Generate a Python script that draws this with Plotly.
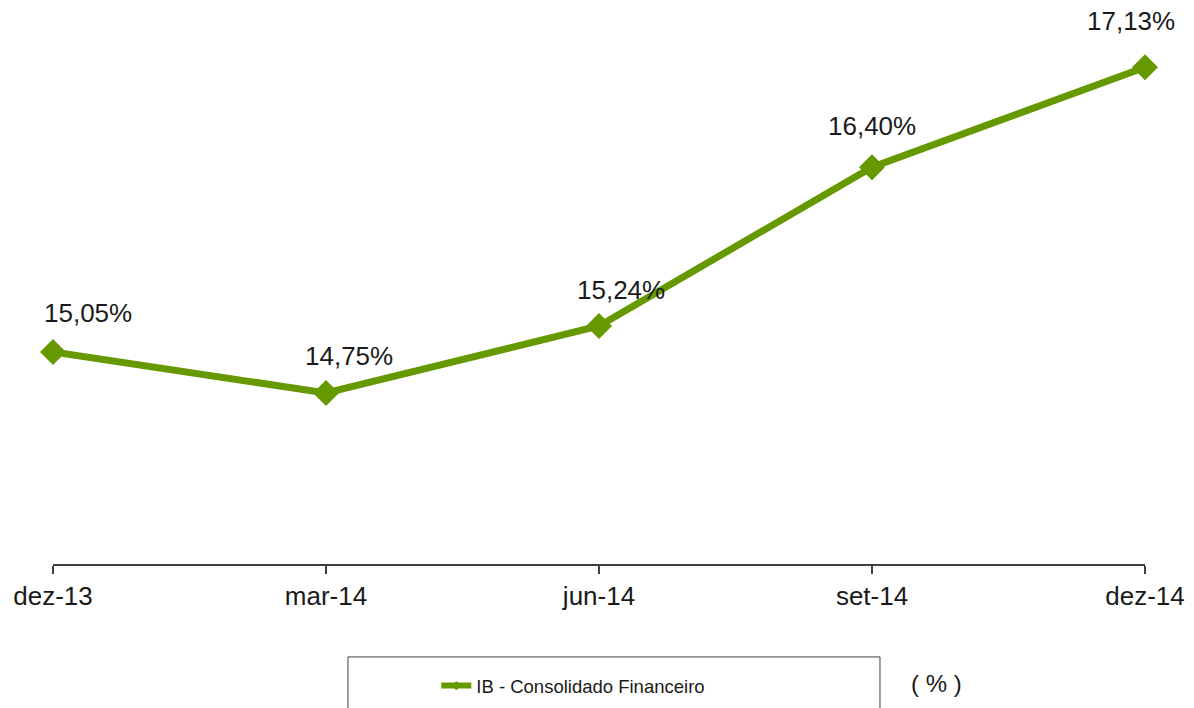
import plotly.graph_objects as go

categories = ["dez-13", "mar-14", "jun-14", "set-14", "dez-14"]
values = [15.05, 14.75, 15.24, 16.40, 17.13]
labels = ["15,05%", "14,75%", "15,24%", "16,40%", "17,13%"]
series_name = "IB - Consolidado Financeiro"
unit_note = "( % )"

label_xshift = [35, 23, 22, 0, -14]
label_yshift = [39, 37, 36, 41, 46]

GREEN = "#669900"
FONT = "Liberation Sans, Arial, sans-serif"

fig = go.Figure()
fig.add_trace(go.Scatter(
    x=categories, y=values, mode="lines+markers", name=series_name,
    line=dict(color=GREEN, width=7),
    marker=dict(symbol="diamond", size=20, color=GREEN),
    cliponaxis=False, showlegend=False,
))
# legend entry (same series style, smaller legend marker)
fig.add_trace(go.Scatter(
    x=[None], y=[None], mode="lines+markers", name=series_name,
    line=dict(color=GREEN, width=6),
    marker=dict(symbol="diamond", size=7, color=GREEN),
    showlegend=True,
))

for c, v, t, dx, dy in zip(categories, values, labels, label_xshift, label_yshift):
    fig.add_annotation(x=c, y=v, text=t, showarrow=False, xshift=dx, yshift=dy,
                       font=dict(family=FONT, size=26, color="#1a1a1a"))

fig.add_shape(type="rect", xref="paper", yref="paper",
              x0=0.2701, x1=0.7573, y0=-0.30, y1=-0.169,
              line=dict(color="#404040", width=1), fillcolor="rgba(0,0,0,0)")

fig.add_annotation(xref="paper", yref="paper", x=0.8095, y=-0.217, text=unit_note,
                   xanchor="center", yanchor="middle",
                   showarrow=False, font=dict(family=FONT, size=24, color="#1a1a1a"))

fig.update_layout(
    width=1186, height=700,
    margin=dict(l=45, r=49, t=6, b=144, autoexpand=False),
    paper_bgcolor="white", plot_bgcolor="white",
    showlegend=True,
    legend=dict(x=0.351, y=-0.222, xanchor="left", yanchor="middle",
                bgcolor="rgba(0,0,0,0)", font=dict(family=FONT, size=18.5, color="#1a1a1a"),
                itemwidth=30),
    font=dict(family=FONT, color="#1a1a1a"),
)
fig.update_xaxes(type="category", range=[0, 4], showline=True, linecolor="#404040", linewidth=1.5,
                 ticks="outside", ticklen=8, tickcolor="#404040", tickwidth=1.5, automargin=False,
                 showgrid=False, zeroline=False, tickfont=dict(family=FONT, size=26, color="#1a1a1a"))
fig.update_yaxes(range=[13.5, 17.52], visible=False, showgrid=False, zeroline=False, automargin=False)

fig.write_html("out.html")
